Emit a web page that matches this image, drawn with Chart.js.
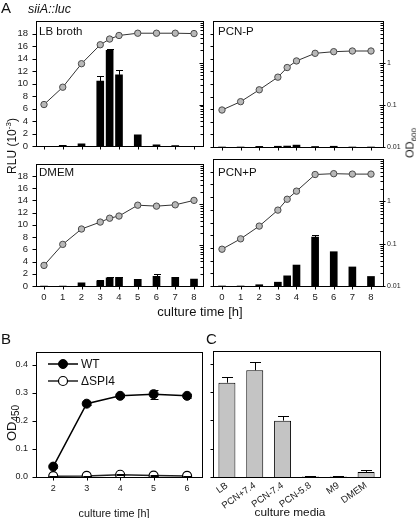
<!DOCTYPE html>
<html><head><meta charset="utf-8">
<script src="https://cdn.jsdelivr.net/npm/chart.js@4.4.0/dist/chart.umd.min.js"></script>
<style>
html,body{margin:0;padding:0;background:#fff;}
body{width:416px;height:518px;position:relative;overflow:hidden;font-family:"Liberation Sans",Arial,Helvetica,sans-serif;color:#111;}
canvas{position:absolute;}
.t{position:absolute;white-space:nowrap;line-height:1;}
.rot{transform:translate(-50%,-50%) rotate(-90deg);}
.ctr{transform:translate(-50%,-50%);}
sub,sup{line-height:0;}
</style></head><body>
<canvas id="cLB" width="212" height="160" style="left:0;top:0"></canvas>
<canvas id="cPCNm" width="210" height="160" style="left:206px;top:0"></canvas>
<canvas id="cDMEM" width="212" height="168" style="left:0;top:150px"></canvas>
<canvas id="cPCNp" width="210" height="168" style="left:206px;top:150px"></canvas>
<canvas id="cB" width="208" height="188" style="left:0;top:330px"></canvas>
<canvas id="cC" width="210" height="188" style="left:206px;top:330px"></canvas>

<div class="t" style="left:1px;top:0px;font-size:15px">A</div>
<div class="t" style="left:28px;top:3px;font-size:12.5px;font-style:italic">siiA::luc</div>
<div class="t" style="left:39px;top:25.5px;font-size:11.5px">LB broth</div>
<div class="t" style="left:218px;top:25.5px;font-size:11.5px">PCN-P</div>
<div class="t" style="left:39px;top:166.5px;font-size:11.5px">DMEM</div>
<div class="t" style="left:218px;top:166.5px;font-size:11.5px">PCN+P</div>
<div class="t rot" style="left:12px;top:146px;font-size:12px">RLU (10<sup style="font-size:8px">-3</sup>)</div>
<div class="t rot" style="left:410px;top:143px;font-size:11px">OD<sub style="font-size:8px">600</sub></div>
<div class="t ctr" style="left:200px;top:311px;font-size:13px">culture time [h]</div>
<div class="t" style="left:1px;top:331px;font-size:15px">B</div>
<div class="t" style="left:206px;top:331px;font-size:15px">C</div>
<div class="t rot" style="left:11px;top:423px;font-size:13px">OD<sub style="font-size:10px">450</sub></div>
<div class="t ctr" style="left:114px;top:513px;font-size:10.8px">culture time [h]</div>
<div class="t ctr" style="left:290px;top:513px;font-size:11.8px">culture media</div>

<script>
// ---------- data ----------
const TIME_POINTS = [0, 1, 2, 3, 3.5, 4, 5, 6, 7, 8];
const TIME_TICKS = [0, 1, 2, 3, 4, 5, 6, 7, 8];
const RLU_TICKS = [0, 2, 4, 6, 8, 10, 12, 14, 16, 18];
const OD600_LABEL_TICKS = [0.01, 0.1, 1];

const LB_RLU      = [0, 0.15, 0.4, 10.4, 15.3, 11.4, 1.85, 0.25, 0.1, 0];
const LB_RLU_ERR  = [0, 0, 0, 0.9, 0.3, 0.85, 0, 0, 0, 0];
const LB_OD       = [0.10, 0.26, 0.95, 2.7, 3.7, 4.5, 5.1, 5.1, 5.1, 5.0];

const PCNM_RLU     = [0, 0, 0.1, 0.12, 0.15, 0.3, 0.08, 0.12, 0, 0];
const PCNM_RLU_ERR = [0, 0, 0, 0, 0, 0, 0, 0, 0, 0];
const PCNM_OD      = [0.076, 0.12, 0.23, 0.46, 0.78, 1.12, 1.7, 1.86, 1.93, 1.93];

const DMEM_RLU     = [0, 0, 0.5, 0.85, 1.35, 1.4, 1.1, 1.6, 1.4, 1.15];
const DMEM_RLU_ERR = [0, 0, 0, 0.15, 0.05, 0.12, 0, 0.35, 0.15, 0];
const DMEM_OD      = [0.032, 0.105, 0.25, 0.37, 0.46, 0.52, 0.96, 0.91, 0.98, 1.26];

const PCNP_RLU     = [0, 0, 0.2, 0.6, 1.6, 3.3, 7.7, 5.4, 3.0, 1.5];
const PCNP_RLU_ERR = [0, 0, 0, 0, 0, 0, 0.4, 0, 0, 0];
const PCNP_OD      = [0.074, 0.13, 0.26, 0.62, 1.12, 1.74, 4.3, 4.5, 4.4, 4.4];

const B_TIMES   = [2, 3, 4, 5, 6];
const WT_OD450  = [0.037, 0.261, 0.289, 0.295, 0.289];
const WT_ERR    = [0.006, 0.005, 0.005, 0.016, 0.006];
const SPI4_OD450 = [0.003, 0.004, 0.008, 0.005, 0.004];
const SPI4_ERR   = [0.001, 0.001, 0.002, 0.001, 0.001];
const OD450_TICKS = [0, 0.1, 0.2, 0.3, 0.4];

const MEDIA     = ['LB', 'PCN+7.4', 'PCN-7.4', 'PCN-5.8', 'M9', 'DMEM'];
const C_OD450   = [0.333, 0.377, 0.199, 0.002, 0.002, 0.018];
const C_ERR     = [0.019, 0.028, 0.018, 0.001, 0.001, 0.007];

// ---------- setup ----------
Chart.defaults.font.family = '"Liberation Sans", Arial, Helvetica, sans-serif';
Chart.defaults.font.size = 9;
Chart.defaults.color = '#1a1a1a';
Chart.defaults.animation = false;

const fixW = w => s => { s.width = w; };
const fixH = h => s => { s.height = h; };
const setTicks = vals => s => { s.ticks = vals.map(v => ({ value: v })); };
const noGrid = { display: false, drawTicks: false };
const noBorder = { display: false };

const frameTicks = {
  id: 'frameTicks',
  afterDatasetsDraw(chart, args, opts) {
    const { ctx, chartArea: a } = chart;
    ctx.save();
    ctx.lineWidth = 1;
    // error bars
    chart.data.datasets.forEach((ds, i) => {
      if (!ds.errorBars) return;
      const meta = chart.getDatasetMeta(i);
      const ys = chart.scales[meta.yAxisID];
      ctx.strokeStyle = '#000';
      meta.data.forEach((el, j) => {
        const e = ds.errorBars[j];
        if (!e) return;
        const d = ds.data[j];
        const v = (typeof d === 'object') ? d.y : d;
        const x = Math.round(el.x) + 0.5;
        const yTop = Math.round(ys.getPixelForValue(v + e)) + 0.5;
        const yBot = ds.errorBoth ? Math.round(ys.getPixelForValue(Math.max(v - e, 0))) + 0.5 : el.y;
        const cw = ds.capWidth || 6;
        ctx.beginPath();
        ctx.moveTo(x, yBot); ctx.lineTo(x, yTop);
        ctx.moveTo(x - cw / 2, yTop); ctx.lineTo(x + cw / 2, yTop);
        if (ds.errorBoth) { ctx.moveTo(x - cw / 2, yBot); ctx.lineTo(x + cw / 2, yBot); }
        ctx.stroke();
      });
    });
    // frame
    const L = Math.round(a.left) + 0.5, R = Math.round(a.right) + 0.5;
    const T = Math.round(a.top) + 0.5, B = Math.round(a.bottom) + 0.5;
    ctx.strokeStyle = '#000';
    ctx.strokeRect(L, T, R - L, B - T);
    // ticks
    (opts.specs || []).forEach(sp => {
      const sc = chart.scales[sp.axis];
      let items = [];
      if (sp.log) {
        for (let e = sp.log[0]; e < sp.log[1]; e++)
          for (let k = 1; k <= 9; k++) items.push({ v: k * Math.pow(10, e), major: k === 1 });
      } else {
        items = sp.values.map(v => ({ v, major: true }));
      }
      items.forEach(it => {
        const p = Math.round(sc.getPixelForValue(it.v)) + 0.5;
        const inn = it.major ? (sp.in || 0) : (sp.minorIn || 0);
        const out = it.major ? (sp.out || 0) : (sp.minorOut || 0);
        ctx.beginPath();
        if (sp.side === 'left') { ctx.moveTo(L - out, p); ctx.lineTo(L + inn, p); }
        else if (sp.side === 'right') { ctx.moveTo(R + out, p); ctx.lineTo(R - inn, p); }
        else { ctx.moveTo(p, B + out); ctx.lineTo(p, B - inn); }
        ctx.stroke();
      });
    });
    // legend
    (opts.legend || []).forEach(lg => {
      const ds = chart.data.datasets[lg.index];
      ctx.strokeStyle = ds.borderColor; ctx.lineWidth = ds.borderWidth;
      ctx.beginPath(); ctx.moveTo(lg.x, lg.y); ctx.lineTo(lg.x + 30, lg.y); ctx.stroke();
      ctx.beginPath(); ctx.arc(lg.x + 15, lg.y, ds.pointRadius, 0, Math.PI * 2);
      ctx.fillStyle = ds.pointBackgroundColor; ctx.fill();
      ctx.lineWidth = ds.pointBorderWidth; ctx.strokeStyle = ds.pointBorderColor; ctx.stroke();
      ctx.fillStyle = '#111'; ctx.font = '12px "Liberation Sans", Arial, sans-serif';
      ctx.textBaseline = 'middle'; ctx.textAlign = 'left';
      ctx.fillText(ds.label, lg.x + 33, lg.y + 0.5);
    });
    ctx.restore();
  }
};

function panelA(id, rlu, err, od, cfg) {
  const isLeft = cfg.isLeft, isBottom = cfg.isBottom;
  new Chart(document.getElementById(id), {
    type: 'bar',
    data: {
      datasets: [
        {
          type: 'line', label: 'OD600', yAxisID: 'y2', xAxisID: 'x',
          data: TIME_POINTS.map((t, i) => ({ x: t, y: od[i] })),
          borderColor: '#333', borderWidth: 1, tension: 0,
          pointRadius: 3.2, pointBackgroundColor: '#b8b8b8', pointBorderColor: '#4a4a4a', pointBorderWidth: 1
        },
        {
          type: 'bar', label: 'RLU', yAxisID: 'y', xAxisID: 'x',
          data: TIME_POINTS.map((t, i) => ({ x: t, y: rlu[i] })),
          backgroundColor: '#000', borderWidth: 0, barThickness: 7,
          errorBars: err, capWidth: 7
        }
      ]
    },
    options: {
      responsive: false, animation: false,
      layout: { padding: { top: cfg.padTop, left: 0, right: 0, bottom: 0 } },
      plugins: {
        legend: { display: false }, tooltip: { enabled: false },
        frameTicks: {
          specs: [
            { axis: 'x', side: 'bottom', values: TIME_TICKS, out: 3 },
            { axis: 'y', side: 'left', values: RLU_TICKS, out: isLeft ? 4 : 3 },
            { axis: 'y2', side: 'right', log: [-2, 1], in: 4, out: isLeft ? 0 : 2, minorIn: 3 }
          ]
        }
      },
      scales: {
        x: {
          type: 'linear', position: 'bottom', min: cfg.xMin, max: cfg.xMax, offset: false,
          afterBuildTicks: setTicks(TIME_TICKS), afterFit: fixH(cfg.xH),
          grid: noGrid, border: noBorder,
          ticks: { display: isBottom, padding: 6, autoSkip: false, maxRotation: 0, font: { size: 9.5 }, callback: v => String(v) }
        },
        y: {
          type: 'linear', position: 'left', min: 0, max: 20,
          afterBuildTicks: setTicks(RLU_TICKS), afterFit: fixW(cfg.yW),
          grid: noGrid, border: noBorder,
          ticks: { display: isLeft, autoSkip: false, padding: 8, font: { size: 9.5 }, callback: v => String(v) }
        },
        y2: {
          type: 'logarithmic', position: 'right', min: 0.01, max: 10,
          afterBuildTicks: setTicks(OD600_LABEL_TICKS), afterFit: fixW(cfg.y2W),
          grid: noGrid, border: noBorder,
          ticks: { display: !isLeft, autoSkip: false, padding: 4, font: { size: 7 }, callback: v => String(v) }
        }
      }
    },
    plugins: [frameTicks]
  });
}

const LEFT_X = { xMin: -0.427, xMax: 8.48 };
const RIGHT_X = { xMin: -0.483, xMax: 8.645 };
panelA('cLB', LB_RLU, LB_RLU_ERR, LB_OD, { isLeft: true, isBottom: false, padTop: 21, yW: 36, y2W: 9, xH: 13, ...LEFT_X });
panelA('cPCNm', PCNM_RLU, PCNM_RLU_ERR, PCNM_OD, { isLeft: false, isBottom: false, padTop: 21, yW: 7, y2W: 33, xH: 13, ...RIGHT_X });
panelA('cDMEM', DMEM_RLU, DMEM_RLU_ERR, DMEM_OD, { isLeft: true, isBottom: true, padTop: 9, yW: 36, y2W: 9, xH: 32, ...LEFT_X });
panelA('cPCNp', PCNP_RLU, PCNP_RLU_ERR, PCNP_OD, { isLeft: false, isBottom: true, padTop: 9, yW: 7, y2W: 33, xH: 32, ...RIGHT_X });

// ---------- panel B ----------
new Chart(document.getElementById('cB'), {
  type: 'line',
  data: {
    datasets: [
      {
        label: 'WT', data: B_TIMES.map((t, i) => ({ x: t, y: WT_OD450[i] })),
        borderColor: '#000', borderWidth: 1.5, tension: 0,
        pointRadius: 4.5, pointBackgroundColor: '#000', pointBorderColor: '#000', pointBorderWidth: 1,
        errorBars: WT_ERR, errorBoth: true, capWidth: 8
      },
      {
        label: '\u0394SPI4', data: B_TIMES.map((t, i) => ({ x: t, y: SPI4_OD450[i] })),
        borderColor: '#222', borderWidth: 1.5, tension: 0,
        pointRadius: 4.5, pointBackgroundColor: '#fff', pointBorderColor: '#000', pointBorderWidth: 1.2,
        errorBars: SPI4_ERR, errorBoth: true, capWidth: 8
      }
    ]
  },
  options: {
    responsive: false, animation: false,
    layout: { padding: { top: 22, left: 0, right: 5, bottom: 0 } },
    plugins: {
      legend: { display: false }, tooltip: { enabled: false },
      frameTicks: {
        specs: [
          { axis: 'x', side: 'bottom', values: B_TIMES, out: 3 },
          { axis: 'y', side: 'left', values: OD450_TICKS, out: 4 }
        ],
        legend: [{ index: 0, x: 48, y: 34 }, { index: 1, x: 48, y: 51 }]
      }
    },
    scales: {
      x: {
        type: 'linear', min: 1.485, max: 6.455,
        afterBuildTicks: setTicks(B_TIMES), afterFit: fixH(41),
        grid: noGrid, border: noBorder,
        ticks: { padding: 6, autoSkip: false, maxRotation: 0, callback: v => String(v) }
      },
      y: {
        type: 'linear', min: 0, max: 0.445,
        afterBuildTicks: setTicks(OD450_TICKS), afterFit: fixW(36),
        grid: noGrid, border: noBorder,
        ticks: { padding: 8, autoSkip: false, callback: v => v.toFixed(1) }
      }
    }
  },
  plugins: [frameTicks]
});

// ---------- panel C ----------
new Chart(document.getElementById('cC'), {
  type: 'bar',
  data: {
    labels: MEDIA,
    datasets: [{
      label: 'OD450', data: C_OD450,
      backgroundColor: '#c4c4c4', borderColor: '#000', borderWidth: 1,
      barPercentage: 0.61, categoryPercentage: 1,
      errorBars: C_ERR, capWidth: 11
    }]
  },
  options: {
    responsive: false, animation: false,
    layout: { padding: { top: 21, left: 0, right: 36, bottom: 0 } },
    plugins: {
      legend: { display: false }, tooltip: { enabled: false },
      frameTicks: {
        specs: [
          { axis: 'y', side: 'left', values: OD450_TICKS, out: 3 }
        ]
      }
    },
    scales: {
      x: {
        type: 'category', offset: true,
        afterFit: fixH(41),
        grid: { display: false, drawTicks: false, offset: true }, border: noBorder,
        ticks: { padding: 3, autoSkip: false, minRotation: 35, maxRotation: 35, font: { size: 9.5 } }
      },
      y: {
        type: 'linear', min: 0, max: 0.445,
        afterBuildTicks: setTicks(OD450_TICKS), afterFit: fixW(7),
        grid: noGrid, border: noBorder,
        ticks: { display: false }
      }
    }
  },
  plugins: [frameTicks]
});
</script>
</body></html>
